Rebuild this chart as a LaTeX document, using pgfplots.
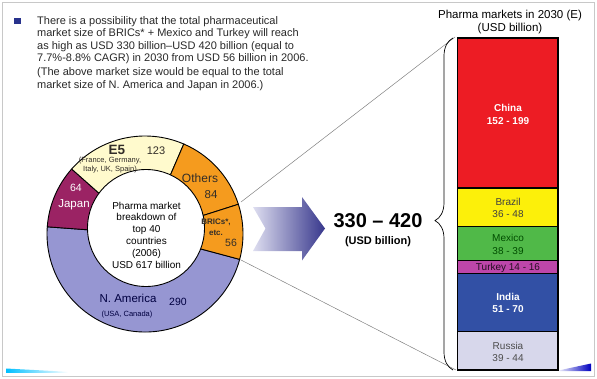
\documentclass[border=0pt]{standalone}
\usepackage{fontspec}
\setmainfont{Liberation Sans}
\usepackage{pgfplots}
\pgfplotsset{compat=1.18}
\usetikzlibrary{decorations.pathreplacing}
\definecolor{cChina}{RGB}{237,28,36}
\definecolor{cBrazil}{RGB}{252,240,10}
\definecolor{cMexico}{RGB}{80,185,72}
\definecolor{cTurkey}{RGB}{190,70,170}
\definecolor{cIndia}{RGB}{50,80,165}
\definecolor{cRussia}{RGB}{215,215,235}
\definecolor{cNA}{RGB}{150,150,210}
\definecolor{cJapan}{RGB}{155,35,100}
\definecolor{cEfive}{RGB}{255,250,205}
\definecolor{cOthers}{RGB}{245,155,30}
\definecolor{cText}{RGB}{40,40,40}
\definecolor{cLab}{RGB}{50,45,40}
\definecolor{cBullet}{RGB}{40,50,140}
\definecolor{cArrowL}{RGB}{222,222,240}
\definecolor{cArrowR}{RGB}{55,55,140}
\definecolor{cFrame}{RGB}{200,200,200}
% donut values (USD billion, 2006)
\def\vNA{290}\def\vJP{64}\def\vEU{123}\def\vOT{84}\def\vBR{56}
\pgfmathsetmacro{\tot}{\vNA+\vJP+\vEU+\vOT+\vBR}
\pgfmathsetmacro{\dg}{360/\tot}
\pgfmathsetmacro{\aA}{-15}
\pgfmathsetmacro{\aB}{\aA-\dg*\vNA}
\pgfmathsetmacro{\aC}{\aB-\dg*\vJP}
\pgfmathsetmacro{\aD}{\aC-\dg*\vEU}
\pgfmathsetmacro{\aE}{\aD-\dg*\vOT}
\pgfmathsetmacro{\aF}{\aE-\dg*\vBR}
\newcommand{\fs}[2]{\fontsize{#1}{#2}\selectfont}
\begin{document}
\begin{tikzpicture}
\path[use as bounding box] (0,0) rectangle (597pt,378pt);
\begin{axis}[at={(0pt,0pt)}, anchor=south west, scale only axis,
  width=597pt, height=378pt, xmin=0, xmax=597, ymin=0, ymax=378,
  y dir=reverse, axis lines=none, clip=false]
% frame
\draw[cFrame, line width=0.8pt] (axis cs:2,2.5) rectangle (axis cs:594.5,376);
% swooshes
\shade[left color=cyan!75!blue, right color=white] (axis cs:6,368.5) -- (axis cs:68,371.8) -- (axis cs:68,372.8) -- (axis cs:6,372.8) -- cycle;
\shade[left color=white, right color=blue!75!black] (axis cs:556,371) -- (axis cs:591,363.5) -- (axis cs:591,371) -- cycle;
% bullet and text
\fill[cBullet] (axis cs:14,18) rectangle (axis cs:20.5,24);
\begin{scope}[every node/.style={anchor=base west, inner sep=0pt, text=cText, font=\fs{11}{12}}]
\node at (axis cs:37,24) {There is a possibility that the total pharmaceutical};
\node at (axis cs:37,36.5) {market size of BRICs* + Mexico and Turkey will reach};
\node at (axis cs:37,49) {as high as USD 330 billion–USD 420 billion (equal to};
\node at (axis cs:37,61.5) {7.7\%-8.8\% CAGR) in 2030 from USD 56 billion in 2006.};
\node at (axis cs:37,75.5) {(The above market size would be equal to the total};
\node at (axis cs:37,88) {market size of N. America and Japan in 2006.)};
\end{scope}
% connector lines
\draw[gray, line width=0.5pt] (axis cs:241,202) -- (axis cs:455,37);
\draw[gray, line width=0.5pt] (axis cs:241,260) -- (axis cs:456,370);
% donut
\begin{scope}[line width=0.9pt, draw=black]
\filldraw[fill=cNA] (axis cs:145,234) -- ++(\aA:98pt) arc[start angle=\aA, end angle=\aB, radius=98pt] -- cycle;
\filldraw[fill=cJapan] (axis cs:145,234) -- ++(\aB:98pt) arc[start angle=\aB, end angle=\aC, radius=98pt] -- cycle;
\filldraw[fill=cEfive] (axis cs:145,234) -- ++(\aC:98pt) arc[start angle=\aC, end angle=\aD, radius=98pt] -- cycle;
\filldraw[fill=cOthers] (axis cs:145,234) -- ++(\aD:98pt) arc[start angle=\aD, end angle=\aE, radius=98pt] -- cycle;
\filldraw[fill=cOthers] (axis cs:145,234) -- ++(\aE:98pt) arc[start angle=\aE, end angle=\aF, radius=98pt] -- cycle;
\filldraw[fill=white] (axis cs:146,228) circle[radius=58.5pt];
\end{scope}
\begin{scope}[every node/.style={inner sep=0pt, align=center, text=cLab}]
\node[font=\bfseries\fs{13.5}{14}] at (axis cs:117,150) {E5};
\node[font=\fs{11}{12}] at (axis cs:156,151) {123};
\node[font=\fs{7.5}{8.2}] at (axis cs:110,165) {(France, Germany,\\Italy, UK, Spain)};
\node[font=\fs{10.5}{12}, text=white] at (axis cs:76,188) {64};
\node[font=\fs{11.5}{12}, text=white] at (axis cs:74,205) {Japan};
\node[font=\fs{12}{12}] at (axis cs:200,178) {Others};
\node[font=\fs{11.5}{12}] at (axis cs:211,195) {84};
\node[font=\bfseries\fs{8}{11}] at (axis cs:216,227.5) {BRICs*,\\etc.};
\node[font=\fs{10.5}{12}] at (axis cs:231,243) {56};
\node[font=\fs{11.5}{12}, text=black!75!blue] at (axis cs:128,298) {N. America};
\node[font=\fs{10.5}{12}, text=black!75!blue] at (axis cs:178,302) {290};
\node[font=\fs{7.5}{8}, text=black!75!blue] at (axis cs:127,315) {(USA, Canada)};
\node[font=\fs{10}{11.8}, text=black] at (axis cs:146.5,235) {Pharma market\\breakdown of\\top 40\\countries\\(2006)\\USD 617 billion};
\end{scope}
% arrow
\shade[left color=cArrowL, right color=cArrowR] (axis cs:253,207) -- (axis cs:302,207) -- (axis cs:302,197) -- (axis cs:325,228.5) -- (axis cs:302,260.5) -- (axis cs:302,251) -- (axis cs:253,251) -- (axis cs:265.5,228.5) -- cycle;
\node[font=\bfseries\fs{20}{22}, inner sep=0pt] at (axis cs:378,221) {330 – 420};
\node[font=\bfseries\fs{11}{12}, inner sep=0pt] at (axis cs:378,242) {(USD billion)};
% brace
\draw[line width=0.7pt, decorate, decoration={brace, amplitude=18pt, aspect=0.45}] (axis cs:453,370) -- (axis cs:453,38);
% bar title
\node[font=\fs{11.5}{13}, inner sep=0pt, align=center] at (axis cs:510,22) {Pharma markets in 2030 (E)\\(USD billion)};
\end{axis}
% stacked bar
\begin{axis}[at={(457.5pt,8pt)}, anchor=south west, scale only axis,
  width=100.5pt, height=332pt, xmin=0, xmax=1, ymin=0, ymax=372,
  ybar stacked, bar width=100.5pt, axis lines=none, clip=false]
\addplot[fill=cRussia, draw=black, line width=1.2pt] coordinates {(0.5,43)};
\addplot[fill=cIndia, draw=black, line width=1.2pt] coordinates {(0.5,65)};
\addplot[fill=cTurkey, draw=black, line width=1.2pt] coordinates {(0.5,15)};
\addplot[fill=cMexico, draw=black, line width=1.2pt] coordinates {(0.5,38)};
\addplot[fill=cBrazil, draw=black, line width=1.2pt] coordinates {(0.5,43)};
\addplot[fill=cChina, draw=black, line width=1.2pt] coordinates {(0.5,168)};
\end{axis}
% bar labels (overlay axis in image coordinates)
\begin{axis}[at={(0pt,0pt)}, anchor=south west, scale only axis,
  width=597pt, height=378pt, xmin=0, xmax=597, ymin=0, ymax=378,
  y dir=reverse, axis lines=none, clip=false]
\begin{scope}[every node/.style={inner sep=0pt, align=center}]
\node[font=\bfseries\fs{10}{13}, text=white] at (axis cs:508,114.5) {China\\152 - 199};
\node[font=\fs{10}{12.5}, text=black!75] at (axis cs:508,208) {Brazil\\36 - 48};
\node[font=\fs{10}{12.5}, text=green!30!black] at (axis cs:508,244.5) {Mexico\\38 - 39};
\node[font=\fs{10}{12}, text=black!80!cTurkey] at (axis cs:508,268) {Turkey 14 - 16};
\node[font=\bfseries\fs{10}{12}, text=white] at (axis cs:508,302.5) {India\\51 - 70};
\node[font=\fs{10}{12}, text=black!70] at (axis cs:508,352) {Russia\\39 - 44};
\end{scope}
\end{axis}
\end{tikzpicture}
\end{document}
